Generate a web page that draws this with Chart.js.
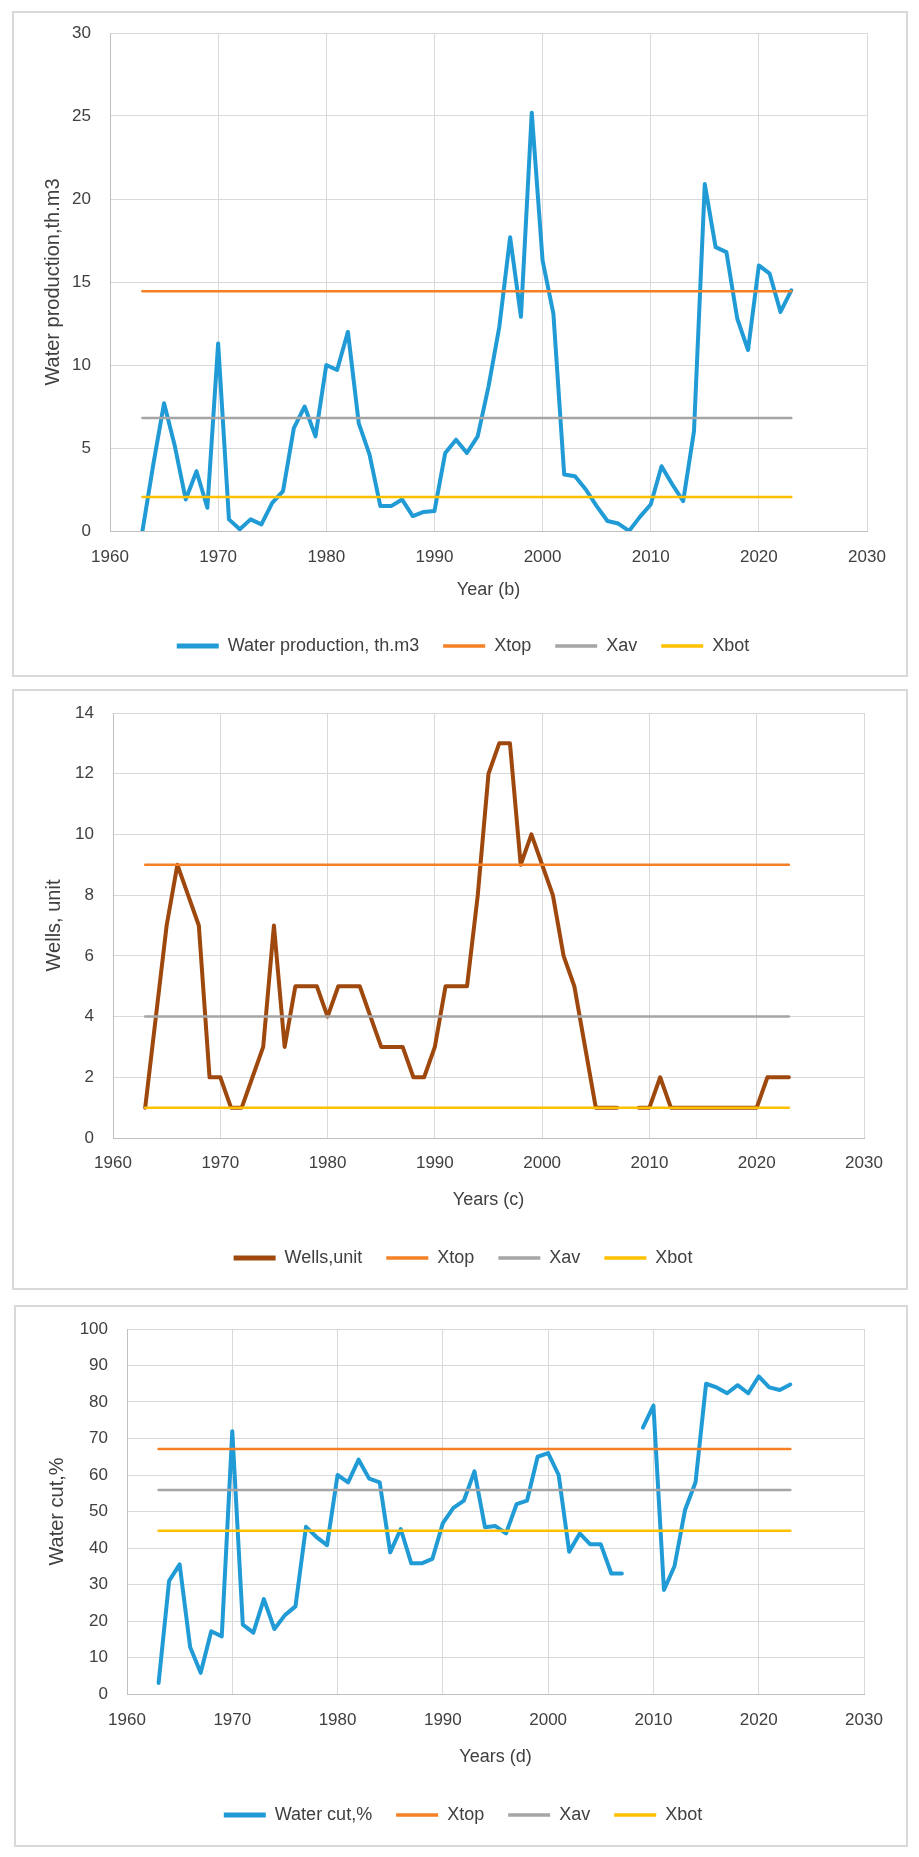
<!DOCTYPE html>
<html>
<head>
<meta charset="utf-8">
<script src="https://cdn.jsdelivr.net/npm/chart.js@4.4.1/dist/chart.umd.min.js"></script>
<style>
    html, body { margin: 0; padding: 0; background: #fff; }
    body { width: 919px; height: 1857px; position: relative; overflow: hidden; }
    .chartBox { position: absolute; box-sizing: border-box; border: 2px solid #d9d9d9; background: #fff; }
    .chartBox canvas { display: block; }
</style>
</head>
<body>
<div class="chartBox" style="left:12px; top:11px; width:896px; height:666px;">
    <canvas id="waterChart" width="892" height="662"></canvas>
</div>
<div class="chartBox" style="left:12px; top:689px; width:896px; height:601px;">
    <canvas id="wellsChart" width="892" height="597"></canvas>
</div>
<div class="chartBox" style="left:14px; top:1305px; width:894px; height:542px;">
    <canvas id="cutChart" width="890" height="538"></canvas>
</div>
<script>
var years = [1963, 1964, 1965, 1966, 1967, 1968, 1969, 1970, 1971, 1972,
    1973, 1974, 1975, 1976, 1977, 1978, 1979, 1980, 1981, 1982,
    1983, 1984, 1985, 1986, 1987, 1988, 1989, 1990, 1991, 1992,
    1993, 1994, 1995, 1996, 1997, 1998, 1999, 2000, 2001, 2002,
    2003, 2004, 2005, 2006, 2007, 2008, 2009, 2010, 2011, 2012,
    2013, 2014, 2015, 2016, 2017, 2018, 2019, 2020, 2021, 2022,
    2023];

// Water production, th.m3
var waterProduction = [0, 4.0, 7.7, 5.1, 1.9, 3.6, 1.4, 11.3, 0.7, 0.1,
    0.7, 0.4, 1.7, 2.4, 6.2, 7.5, 5.7, 10.0, 9.7, 12.0,
    6.5, 4.6, 1.5, 1.5, 1.9, 0.9, 1.15, 1.2, 4.7, 5.5,
    4.7, 5.7, 8.7, 12.3, 17.7, 12.9, 25.2, 16.3, 13.1, 3.4,
    3.3, 2.5, 1.5, 0.6, 0.45, 0.0, 0.85, 1.6, 3.9, 2.8,
    1.8, 6.0, 20.9, 17.1, 16.8, 12.8, 10.9, 16.0, 15.5, 13.2,
    14.5];
var waterTop = 14.45;
var waterAv = 6.8;
var waterBot = 2.05;

// Wells, unit (2008 missing)
var wells = [1, 4, 7, 9, 8, 7, 2, 2, 1, 1,
    2, 3, 7, 3, 5, 5, 5, 4, 5, 5,
    5, 4, 3, 3, 3, 2, 2, 3, 5, 5,
    5, 8, 12, 13, 13, 9, 10, 9, 8, 6,
    5, 3, 1, 1, 1, null, 1, 1, 2, 1,
    1, 1, 1, 1, 1, 1, 1, 1, 2, 2,
    2];
var wellsTop = 9;
var wellsAv = 4;
var wellsBot = 1;

// Water cut, % (2008 missing)
var waterCut = [3, 31, 35.5, 12.8, 5.8, 17.2, 15.8, 72, 19, 16.8,
    26, 17.8, 21.6, 24, 45.8, 43, 40.8, 60, 58, 64.2,
    59, 58, 38.8, 45.2, 35.8, 35.8, 37, 46.8, 51, 53,
    61, 45.7, 46, 44, 52, 53, 65, 66, 60, 39,
    44, 41, 41, 33, 33, null, 73, 79, 28.5, 35,
    50.4, 58, 85, 84, 82.4, 84.6, 82.4, 87, 84, 83.3,
    84.8];
var cutTop = 67.1;
var cutAv = 55.9;
var cutBot = 44.7;

var xTicks = [1960, 2030, 10];

var FONT = "'Liberation Sans', Arial, sans-serif";
var TEXT = '#404040';

// moves the legend row so it sits where Excel put it
var legendShift = {
    id: 'legendShift',
    afterLayout: function (chart, args, opts) {
        var legend = chart.legend;
        if (!legend || opts.centre === undefined) return;
        var dx = opts.centre - (legend.left + legend.right) / 2;
        legend.left += dx;
        legend.right += dx;
    }
};

function points(values) {
    return years.map(function (year, i) {
        return { x: year, y: values[i] };
    });
}

function flat(value) {
    return years.map(function (year) {
        return { x: year, y: value };
    });
}

function setLineChartData(canvas, s) {
    var datasets = [
        { label: s.name, data: points(s.values), borderColor: s.color, borderWidth: 4, legendWidth: 5, order: 10 },
        { label: 'Xtop', data: flat(s.top), borderColor: '#f58025', borderWidth: 2.5, legendWidth: 3.5, order: 3 },
        { label: 'Xav', data: flat(s.av), borderColor: '#a5a5a5', borderWidth: 2.5, legendWidth: 3.5, order: 2 },
        { label: 'Xbot', data: flat(s.bot), borderColor: '#ffc000', borderWidth: 2.5, legendWidth: 3.5, order: 1 }
    ];
    datasets.forEach(function (ds) {
        ds.backgroundColor = ds.borderColor;
        ds.pointRadius = 0;
        ds.pointHoverRadius = 0;
        ds.tension = 0;
        ds.spanGaps = false;
        ds.borderJoinStyle = 'round';
        ds.borderCapStyle = 'round';
        ds.fill = false;
    });

    var config = {
        type: 'line',
        data: { datasets: datasets },
        plugins: [legendShift],
        options: {
            responsive: false,
            animation: false,
            events: [],
            layout: {
                padding: { left: 0, right: s.padRight, top: s.padTop, bottom: s.padBottom }
            },
            plugins: {
                tooltip: { enabled: false },
                legendShift: { centre: s.legendCentre },
                legend: {
                    display: true,
                    position: 'bottom',
                    labels: {
                        usePointStyle: true,
                        pointStyle: 'line',
                        pointStyleWidth: 42,
                        padding: 24,
                        color: TEXT,
                        font: { family: FONT, size: 18 },
                        generateLabels: function (chart) {
                            return chart.data.datasets.map(function (ds, i) {
                                return {
                                    text: ds.label,
                                    strokeStyle: ds.borderColor,
                                    fillStyle: ds.borderColor,
                                    lineWidth: ds.legendWidth,
                                    lineCap: 'butt',
                                    pointStyle: 'line',
                                    fontColor: TEXT,
                                    hidden: false,
                                    datasetIndex: i
                                };
                            });
                        }
                    }
                }
            },
            scales: {
                x: {
                    type: 'linear',
                    min: xTicks[0],
                    max: xTicks[1],
                    afterFit: function (scale) { scale.height = s.xHeight; },
                    ticks: {
                        stepSize: xTicks[2],
                        padding: s.xTickPad,
                        color: TEXT,
                        font: { family: FONT, size: 17 },
                        maxRotation: 0,
                        callback: function (v) { return String(v); }
                    },
                    grid: { color: '#d9d9d9', lineWidth: 1, drawTicks: false },
                    border: { color: '#bfbfbf', width: 1 },
                    title: {
                        display: true,
                        text: s.xTitle,
                        color: TEXT,
                        font: { family: FONT, size: 18 },
                        padding: { top: 0, bottom: s.xTitlePad }
                    }
                },
                y: {
                    min: s.yMin,
                    max: s.yMax,
                    afterFit: function (scale) {
                        scale.width = s.yWidth;
                        scale.paddingTop = 0;
                        scale.paddingBottom = 0;
                    },
                    ticks: {
                        stepSize: s.yStep,
                        padding: 19,
                        color: TEXT,
                        font: { family: FONT, size: 17 }
                    },
                    grid: { color: '#d9d9d9', lineWidth: 1, drawTicks: false },
                    border: { color: '#bfbfbf', width: 1 },
                    title: {
                        display: true,
                        text: s.yTitle,
                        color: TEXT,
                        font: { family: FONT, size: 20 },
                        padding: { top: s.yTitlePad, bottom: 0 }
                    }
                }
            }
        }
    };
    renderChart(canvas, config);
}

function renderChart(canvas, config) {
    var ctx = document.getElementById(canvas).getContext('2d');
    return new Chart(ctx, config);
}

setLineChartData('waterChart', {
    name: 'Water production, th.m3', values: waterProduction, color: '#219bd6',
    top: waterTop, av: waterAv, bot: waterBot,
    yMin: 0, yMax: 30, yStep: 5,
    xTitle: 'Year (b)', yTitle: 'Water production,th.m3',
    padTop: 20, padRight: 39, padBottom: 10,
    yWidth: 96, yTitlePad: 27, xHeight: 82, xTickPad: 16, xTitlePad: 12,
    legendCentre: 449
});

setLineChartData('wellsChart', {
    name: 'Wells,unit', values: wells, color: '#9e480e',
    top: wellsTop, av: wellsAv, bot: wellsBot,
    yMin: 0, yMax: 14, yStep: 2,
    xTitle: 'Years (c)', yTitle: 'Wells, unit',
    padTop: 22, padRight: 42, padBottom: 11,
    yWidth: 99, yTitlePad: 28, xHeight: 87, xTickPad: 15, xTitlePad: 14,
    legendCentre: 449
});

setLineChartData('cutChart', {
    name: 'Water cut,%', values: waterCut, color: '#219bd6',
    top: cutTop, av: cutAv, bot: cutBot,
    yMin: 0, yMax: 100, yStep: 10,
    xTitle: 'Years (d)', yTitle: 'Water cut,%',
    padTop: 22, padRight: 42, padBottom: 11,
    yWidth: 111, yTitlePad: 29, xHeight: 88, xTickPad: 16, xTitlePad: 14,
    legendCentre: 447
});
</script>
</body>
</html>
